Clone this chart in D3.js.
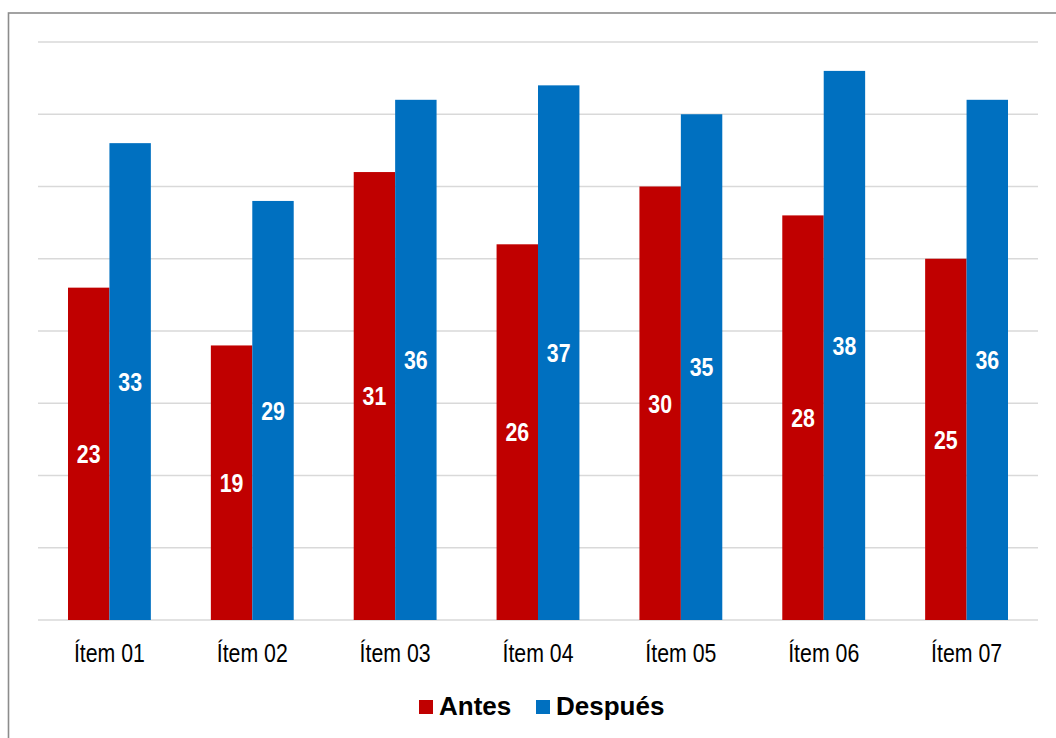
<!DOCTYPE html>
<html>
<head>
<meta charset="utf-8">
<script src="https://cdn.jsdelivr.net/npm/d3@7"></script>
<style>
  html, body { margin: 0; padding: 0; background: #fff; }
  svg { display: block; }
</style>
</head>
<body>
<svg id="chart" width="1056" height="738"></svg>
<script>
// Category labels and the two series
const categories = ["Ítem 01", "Ítem 02", "Ítem 03", "Ítem 04", "Ítem 05", "Ítem 06", "Ítem 07"];
const seriesNames = ["Antes", "Después"];
const antes = [23, 19, 31, 26, 30, 28, 25];
const despues = [33, 29, 36, 37, 35, 38, 36];
const gridTicks = [0, 5, 10, 15, 20, 25, 30, 35, 40];

const colors = { "Antes": "#C00000", "Después": "#0070C0" };
const sans = "'Liberation Sans', Arial, sans-serif";
// condensed look: regular sans squeezed horizontally
const narrowScale = 0.82;

const svg = d3.select("#chart");
const W = 1056, H = 738;
const plot = { left: 38, right: 1038, top: 42, bottom: 620 };

// Outer frame
svg.append("rect")
  .attr("x", 8.5).attr("y", 13)
  .attr("width", W).attr("height", H)
  .attr("fill", "#fff")
  .attr("stroke", "#8c8c8c").attr("stroke-width", 1.6);

const x0 = d3.scaleBand().domain(categories).range([plot.left, plot.right]).paddingInner(0.42).paddingOuter(0.21);
const x1 = d3.scaleBand().domain(seriesNames).range([0, x0.bandwidth()]).padding(0);
const y = d3.scaleLinear().domain([0, 40]).range([plot.bottom, plot.top]);

// Horizontal gridlines
svg.append("g")
  .selectAll("line")
  .data(gridTicks)
  .join("line")
  .attr("x1", plot.left).attr("x2", plot.right)
  .attr("y1", d => y(d)).attr("y2", d => y(d))
  .attr("stroke", "#d9d9d9").attr("stroke-width", 1.5);

const rows = categories.map((c, i) => ({
  cat: c,
  values: [{ name: "Antes", v: antes[i] }, { name: "Después", v: despues[i] }]
}));

const groups = svg.append("g")
  .selectAll("g")
  .data(rows)
  .join("g")
  .attr("transform", d => `translate(${x0(d.cat)},0)`);

groups.selectAll("rect")
  .data(d => d.values)
  .join("rect")
  .attr("x", d => x1(d.name))
  .attr("width", x1.bandwidth())
  .attr("y", d => y(d.v))
  .attr("height", d => y(0) - y(d.v))
  .attr("fill", d => colors[d.name]);

// Value labels centred inside each bar
groups.selectAll("text")
  .data(d => d.values)
  .join("text")
  .attr("transform", d => `translate(${x1(d.name) + x1.bandwidth() / 2},${(y(d.v) + y(0)) / 2}) scale(${narrowScale},1)`)
  .attr("text-anchor", "middle")
  .attr("dominant-baseline", "central")
  .attr("fill", "#fff")
  .style("font-family", sans)
  .style("font-weight", "bold")
  .style("font-size", "26px")
  .text(d => d.v);

// Category axis labels
const xAxis = d3.axisBottom(x0).tickSize(0).tickPadding(0);
const axisG = svg.append("g").attr("transform", `translate(0,${plot.bottom})`).call(xAxis);
axisG.select(".domain").remove();
axisG.selectAll("text")
  .attr("y", null)
  .attr("dy", null)
  .attr("transform", `translate(0,42) scale(${narrowScale},1)`)
  .attr("fill", "#000")
  .style("font-family", sans)
  .style("font-size", "26px");

// Legend
const legend = svg.append("g").attr("transform", "translate(419,700)");
const legendItems = [
  { name: "Antes", x: 0 },
  { name: "Después", x: 117 }
];
const li = legend.selectAll("g").data(legendItems).join("g")
  .attr("transform", d => `translate(${d.x},0)`);
li.append("rect").attr("width", 14).attr("height", 14).attr("fill", d => colors[d.name]);
li.append("text")
  .attr("x", 20).attr("y", 15)
  .style("font-family", sans)
  .style("font-weight", "bold")
  .style("font-size", "26px")
  .attr("fill", "#000")
  .text(d => d.name);
</script>
</body>
</html>
